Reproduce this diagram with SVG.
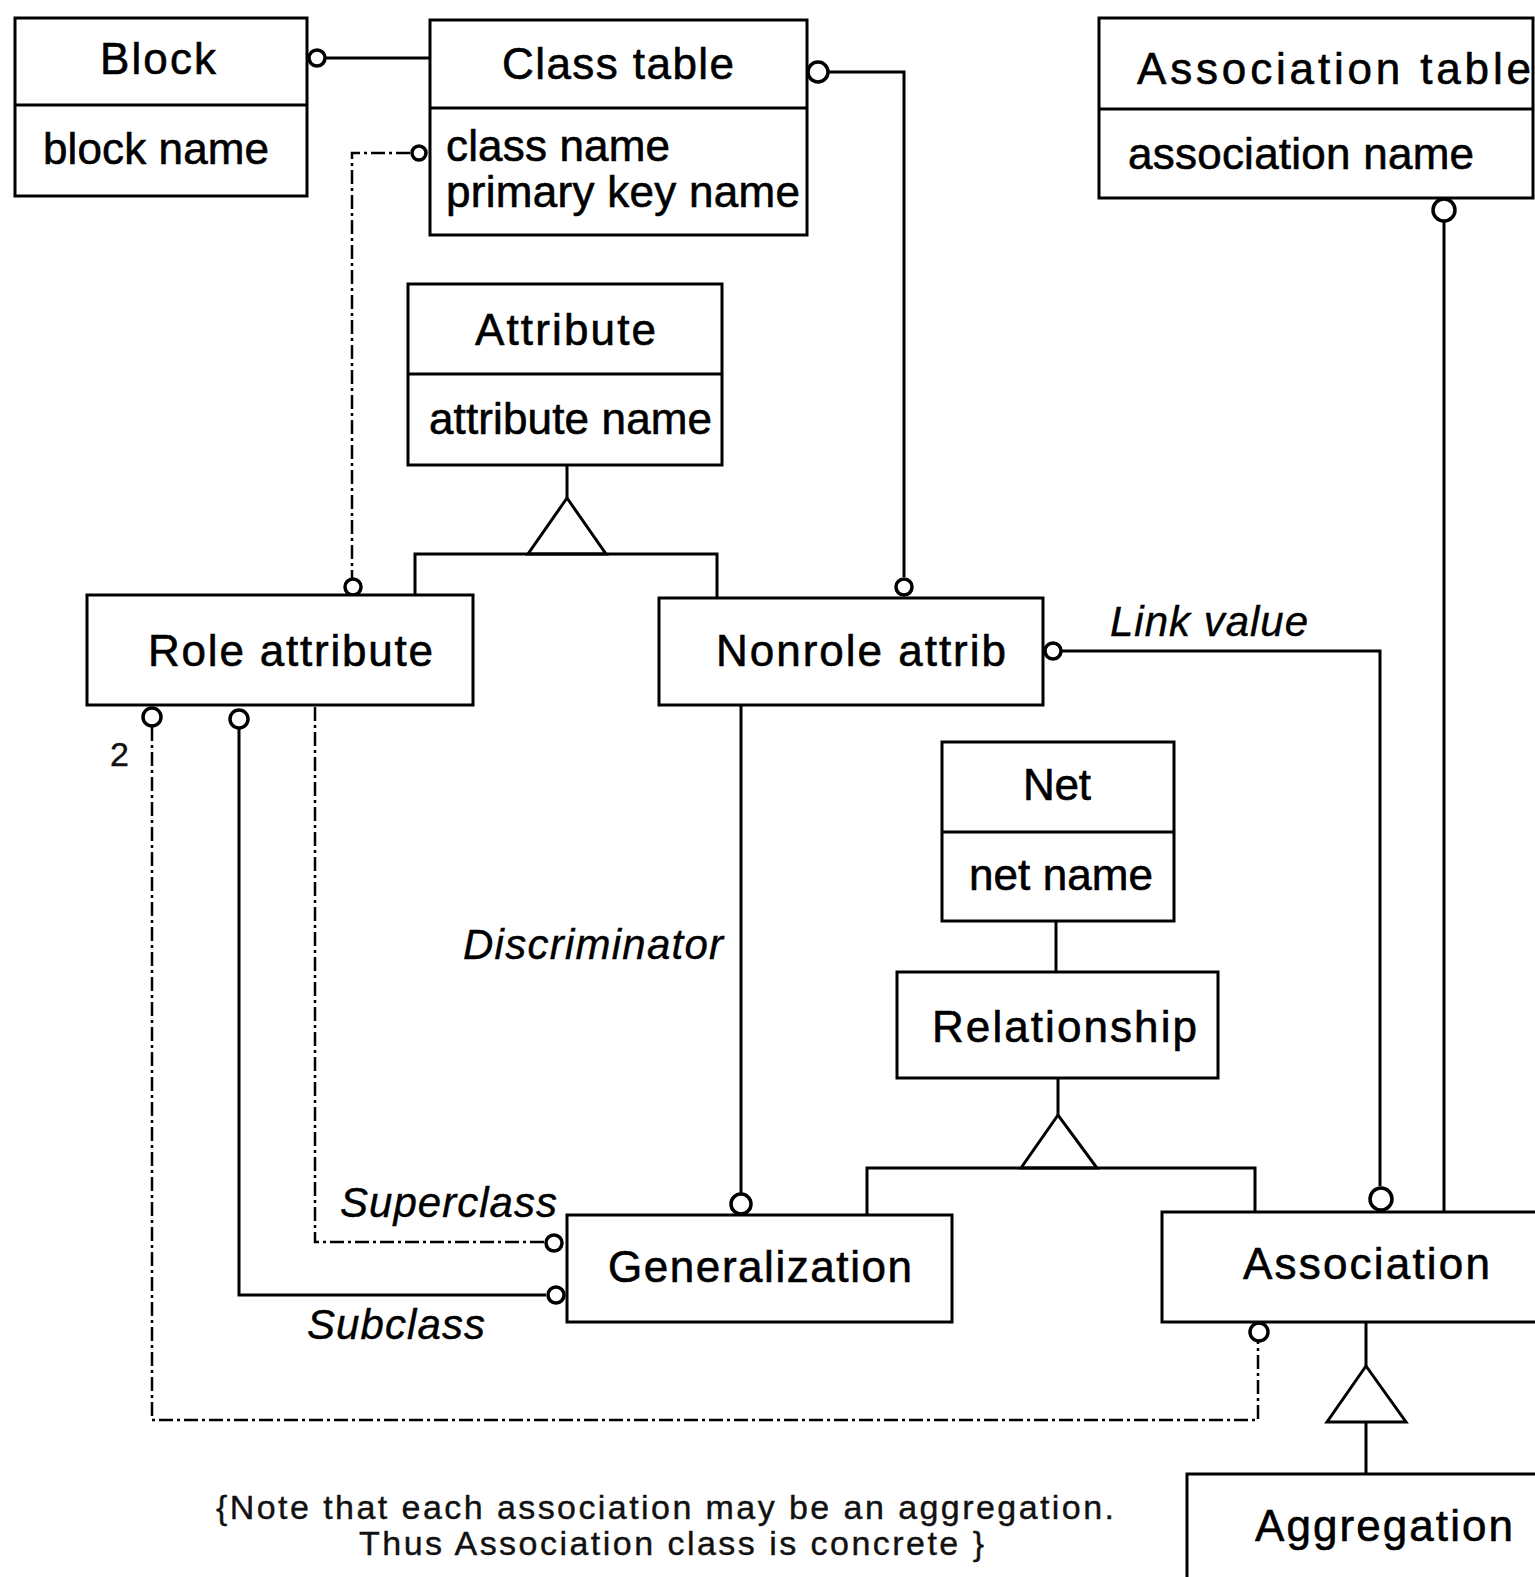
<svg xmlns="http://www.w3.org/2000/svg" width="1535" height="1577" viewBox="0 0 1535 1577">
  <style>
    .box { fill: #fff; stroke: #000; stroke-width: 3; }
    .div { stroke: #000; stroke-width: 3; }
    .t { font-family: "Liberation Sans", Arial, sans-serif; font-size: 44px; fill: #000; stroke: #000; stroke-width: 0.6; }
    .it { font-family: "Liberation Sans", Arial, sans-serif; font-size: 42px; font-style: italic; fill: #000; stroke: #000; stroke-width: 0.4; }
    .note { font-family: "Liberation Sans", Arial, sans-serif; font-size: 34px; fill: #111; stroke: #111; stroke-width: 0.4; }
    .ln { fill: none; stroke: #000; stroke-width: 3; }
    .dl { fill: none; stroke: #000; stroke-width: 2.5; stroke-dasharray: 14 4 3 4; }
    .oc { fill: #fff; stroke: #000; stroke-width: 3.5; }
    .tri { fill: #fff; stroke: #000; stroke-width: 3; }
  </style>

  <!-- connectors -->
  <g id="connectors">
    <!-- Block to Class table -->
    <line class="ln" x1="326" y1="58" x2="430" y2="58"/>
    <circle class="oc" cx="317" cy="58" r="8"/>

    <!-- Class table to Nonrole attrib -->
    <polyline class="ln" points="828,72 904,72 904,577"/>
    <circle class="oc" cx="818" cy="72" r="10"/>
    <circle class="oc" cx="904" cy="587" r="8"/>

    <!-- Class table to Role attribute -->
    <polyline class="dl" points="410,153 352,153 352,578"/>
    <circle class="oc" cx="419" cy="153" r="7"/>
    <circle class="oc" cx="353" cy="587" r="8"/>

    <!-- Attribute generalization -->
    <line class="ln" x1="567" y1="465" x2="567" y2="498"/>
    <polygon class="tri" points="567,498 528,554 606,554"/>
    <polyline class="ln" points="415,595 415,554 717,554 717,598"/>

    <!-- Link value: Nonrole attrib to Association -->
    <polyline class="ln" points="1062,651 1380,651 1380,1186"/>
    <circle class="oc" cx="1053" cy="651" r="8"/>
    <circle class="oc" cx="1381" cy="1199" r="11"/>

    <!-- Association table to Association -->
    <line class="ln" x1="1444" y1="221" x2="1444" y2="1212"/>
    <circle class="oc" cx="1444" cy="210" r="11"/>

    <!-- Discriminator: Nonrole attrib to Generalization -->
    <line class="ln" x1="741" y1="705" x2="741" y2="1193"/>
    <circle class="oc" cx="741" cy="1204" r="10"/>

    <!-- Superclass -->
    <polyline class="dl" points="315,707 315,1242 545,1242"/>
    <circle class="oc" cx="554" cy="1243" r="8"/>

    <!-- Subclass -->
    <polyline class="ln" points="239,729 239,1295 546,1295"/>
    <circle class="oc" cx="239" cy="719" r="9"/>
    <circle class="oc" cx="556" cy="1295" r="8"/>

    <!-- Role attribute to Association -->
    <polyline class="dl" points="152,727 152,1420 1258,1420 1258,1342"/>
    <circle class="oc" cx="152" cy="717" r="9"/>
    <circle class="oc" cx="1259" cy="1332" r="9"/>

    <!-- Net to Relationship -->
    <line class="ln" x1="1056" y1="921" x2="1056" y2="972"/>

    <!-- Relationship generalization -->
    <line class="ln" x1="1058" y1="1078" x2="1058" y2="1115"/>
    <polygon class="tri" points="1058,1115 1021,1168 1097,1168"/>
    <polyline class="ln" points="867,1215 867,1168 1255,1168 1255,1212"/>

    <!-- Association generalization to Aggregation -->
    <line class="ln" x1="1366" y1="1322" x2="1366" y2="1366"/>
    <polygon class="tri" points="1366,1366 1327,1422 1406,1422"/>
    <line class="ln" x1="1366" y1="1422" x2="1366" y2="1474"/>
  </g>

  <!-- Block -->
  <g id="block">
    <rect class="box" x="15" y="18" width="292" height="178"/>
    <line class="div" x1="15" y1="105" x2="307" y2="105"/>
    <text class="t" x="158" y="74" text-anchor="middle" textLength="116">Block</text>
    <text class="t" x="43" y="164" textLength="226">block name</text>
  </g>

  <!-- Class table -->
  <g id="class-table">
    <rect class="box" x="430" y="20" width="377" height="215"/>
    <line class="div" x1="430" y1="108" x2="807" y2="108"/>
    <text class="t" x="502" y="79" textLength="232">Class table</text>
    <text class="t" x="446" y="161" font-size="40" textLength="224">class name</text>
    <text class="t" x="446" y="207" font-size="40" textLength="354">primary key name</text>
  </g>

  <!-- Association table -->
  <g id="association-table">
    <rect class="box" x="1099" y="18" width="434" height="180"/>
    <line class="div" x1="1099" y1="109" x2="1533" y2="109"/>
    <text class="t" x="1137" y="84" textLength="394">Association table</text>
    <text class="t" x="1128" y="169" textLength="346">association name</text>
  </g>

  <!-- Attribute -->
  <g id="attribute">
    <rect class="box" x="408" y="284" width="314" height="181"/>
    <line class="div" x1="408" y1="374" x2="722" y2="374"/>
    <text class="t" x="475" y="345" textLength="181">Attribute</text>
    <text class="t" x="429" y="434" textLength="283">attribute name</text>
  </g>

  <!-- Role attribute -->
  <g id="role-attribute">
    <rect class="box" x="87" y="595" width="386" height="110"/>
    <text class="t" x="148" y="666" textLength="285">Role attribute</text>
    <text class="note" x="110" y="766" font-size="24">2</text>
  </g>

  <!-- Nonrole attrib -->
  <g id="nonrole-attrib">
    <rect class="box" x="659" y="598" width="384" height="107"/>
    <text class="t" x="716" y="666" textLength="290">Nonrole attrib</text>
    <text class="it" x="1110" y="636" textLength="198">Link value</text>
  </g>

  <!-- Net -->
  <g id="net">
    <rect class="box" x="942" y="742" width="232" height="179"/>
    <line class="div" x1="942" y1="832" x2="1174" y2="832"/>
    <text class="t" x="1023" y="800" textLength="68">Net</text>
    <text class="t" x="969" y="890" textLength="184">net name</text>
  </g>

  <!-- Relationship -->
  <g id="relationship">
    <rect class="box" x="897" y="972" width="321" height="106"/>
    <text class="t" x="932" y="1042" textLength="265">Relationship</text>
  </g>

  <!-- Generalization -->
  <g id="generalization">
    <rect class="box" x="567" y="1215" width="385" height="107"/>
    <text class="t" x="608" y="1282" textLength="304">Generalization</text>
    <text class="it" x="463" y="959" textLength="260">Discriminator</text>
    <text class="it" x="340" y="1217" textLength="217">Superclass</text>
    <text class="it" x="307" y="1339" textLength="178">Subclass</text>
  </g>

  <!-- Association -->
  <g id="association">
    <rect class="box" x="1162" y="1212" width="380" height="110"/>
    <text class="t" x="1243" y="1279" textLength="247">Association</text>
  </g>

  <!-- Aggregation -->
  <g id="aggregation">
    <rect class="box" x="1187" y="1474" width="360" height="120"/>
    <text class="t" x="1255" y="1541" textLength="258">Aggregation</text>
  </g>

  <!-- Note -->
  <g id="note">
    <text class="note" x="216" y="1519" textLength="898">{Note that each association may be an aggregation.</text>
    <text class="note" x="359" y="1555" textLength="625">Thus Association class is concrete }</text>
  </g>
</svg>
